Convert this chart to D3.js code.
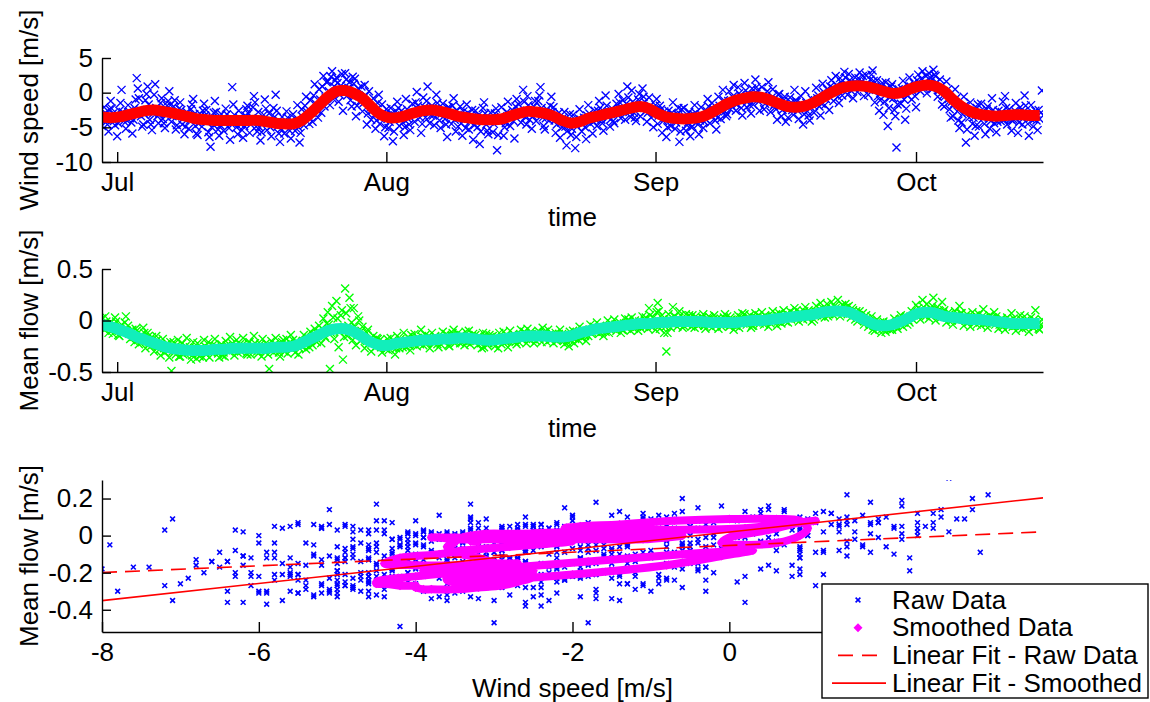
<!DOCTYPE html>
<html>
<head>
<meta charset="utf-8">
<script src="https://cdnjs.cloudflare.com/ajax/libs/d3/7.8.5/d3.min.js"></script>
<style>
  body { margin: 0; background: #fff; }
  text { font-family: "Liberation Sans", Arial, sans-serif; font-size: 26px; fill: #000; }
</style>
</head>
<body>
<svg id="fig" width="1150" height="702"></svg>
<script>
// ---- time base: raw samples every 3 h, smoothed samples every 24 h ----
const seriesStart = Date.UTC(2009, 5, 29, 6);
const seriesEnd = Date.UTC(2009, 9, 15, 15);
const rawStepHours = 3;
const smoothStepHours = 24;

// ---- tick values and labels ----
const monthTicks = [Date.UTC(2009, 6, 1), Date.UTC(2009, 7, 1), Date.UTC(2009, 8, 1), Date.UTC(2009, 9, 1)];
const monthLabels = ["Jul", "Aug", "Sep", "Oct"];
const windTicks = [5, 0, -5, -10];
const flowTicks = [0.5, 0, -0.5];
const scatterXTicks = [-8, -6, -4, -2, 0];
const scatterYTicks = [0.2, 0, -0.2, -0.4];

// ---- raw wind speed [m/s], 3-hourly (one row per day) ----
const windRaw = [
  -4.8,-3.2,-2.1,-2.9,-3.9,-4.6,-5.6,-2.4,
  -1.2,-2.3,-3.0,-4.1,-4.7,-3.5,-6.3,-4.4,
  -2.6,-1.5,0.4,-2.8,-4.1,-3.3,-5.2,-4.0,
  -1.8,-2.7,-3.7,-4.3,-5.9,-3.9,-2.2,-1.0,
  2.1,0.6,-0.8,-2.5,-3.4,-4.9,-4.6,-3.1,
  -1.1,-0.2,0.9,-1.7,-3.9,-4.6,-5.4,-3.0,
  -0.3,1.2,-2.2,-3.4,-4.4,-3.1,-1.5,-0.8,
  -3.8,-4.4,-5.1,-2.9,-1.9,-1.2,0.2,-1.8,
  -4.2,-3.4,-2.0,-1.1,-5.3,-4.7,-3.1,-2.3,
  -1.4,-2.5,-4.6,-3.7,-6.0,-4.9,-2.8,-3.5,
  -5.2,-4.0,-2.4,-1.7,-0.9,-3.1,-4.8,-5.9,
  -6.1,-4.5,-3.0,-3.9,-4.9,-2.6,-1.6,-3.3,
  -2.5,-4.2,-5.7,-6.4,-7.8,-5.0,-3.6,-2.9,
  -1.2,-2.8,-4.4,-5.3,-6.2,-4.7,-3.1,-3.8,
  -5.5,-3.6,-2.3,-3.1,-4.0,-5.1,-6.8,-4.5,
  0.8,-1.7,-3.2,-4.1,-5.0,-6.0,-2.6,-3.7,
  -4.6,-5.4,-6.5,-4.8,-3.3,-2.4,-1.9,-3.0,
  -5.8,-4.6,-3.7,-2.1,-0.5,-1.4,-4.9,-5.6,
  -2.8,-5.0,-6.9,-5.7,-4.3,-3.2,-1.0,-2.3,
  -5.4,-4.4,-3.0,-5.0,-6.3,-4.1,-2.2,-3.5,
  -0.3,-2.6,-4.8,-5.9,-7.1,-5.2,-3.5,-4.3,
  -5.9,-4.8,-2.7,-3.6,-4.4,-5.5,-6.6,-4.0,
  -3.1,-4.6,-5.5,-3.9,-1.8,-5.0,-7.2,-5.8,
  -2.4,-3.5,-4.7,-1.9,-0.6,-2.8,-3.3,-4.5,
  -1.1,-2.9,-4.2,-0.4,1.2,-1.6,-2.5,-3.6,
  0.5,-1.0,-2.9,0.9,2.4,-2.0,-0.7,1.5,
  1.6,0.2,-1.8,2.3,3.1,-0.9,0.9,1.8,
  2.2,1.4,-1.3,-0.3,1.0,2.7,-2.6,0.5,
  2.8,1.9,-0.4,0.7,1.5,-1.1,-2.0,2.3,
  1.3,2.0,-3.4,-1.9,0.6,-0.5,-1.2,0.9,
  -2.7,-1.5,1.1,-0.4,-4.6,-3.0,0.2,-2.2,
  -3.9,-2.6,-0.8,-3.2,-5.2,-4.0,-1.5,-0.3,
  -4.5,-3.6,-1.7,-2.9,-6.3,-5.0,-2.4,-3.8,
  -5.1,-4.2,-2.2,-3.0,-7.0,-5.6,-3.3,-2.7,
  -1.3,-2.2,-4.8,-3.7,-2.6,-4.3,-6.1,-5.0,
  -0.9,-2.4,-3.8,-4.6,-5.4,-3.0,-1.6,-2.9,
  -4.2,-1.4,0.1,-1.9,-2.5,-3.6,-5.8,-4.5,
  -0.7,-2.1,-3.6,-1.2,0.9,-2.9,-4.4,-3.3,
  -1.9,-3.3,-4.7,-2.4,-0.3,-1.5,-3.0,-4.0,
  -5.1,-3.0,-1.6,-2.5,-3.8,-4.6,-6.4,-2.1,
  -2.2,-3.4,-4.5,-1.9,-0.8,-3.9,-5.6,-2.6,
  -4.9,-3.6,-2.0,-4.4,-6.2,-2.7,-3.2,-5.1,
  -1.7,-2.9,-5.3,-4.2,-3.9,-2.5,-6.8,-4.7,
  -2.6,-4.1,-5.0,-3.2,-7.4,-5.6,-3.5,-2.2,
  -1.4,-3.0,-4.6,-5.5,-6.0,-4.2,-2.9,-3.7,
  -5.7,-4.5,-3.0,-2.3,-8.3,-6.1,-4.1,-3.4,
  -2.1,-3.9,-6.2,-5.0,-4.4,-2.8,-1.3,-3.1,
  -4.8,-3.5,-2.5,-4.1,-6.6,-2.0,-0.9,-2.7,
  -1.7,-2.6,-4.3,-3.2,0.4,-1.3,-3.5,-4.6,
  -0.5,-1.8,-3.9,-2.9,-5.2,-3.4,-2.0,-1.2,
  -4.1,-2.7,-1.2,-0.4,0.8,-2.2,-3.6,-4.8,
  -5.3,-3.7,-2.4,-3.1,-4.0,-1.9,-0.6,-2.8,
  -2.1,-4.0,-5.8,-4.6,-3.7,-2.9,-6.5,-4.3,
  -5.0,-3.6,-2.8,-4.9,-7.6,-5.5,-4.3,-3.1,
  -6.1,-5.2,-3.2,-4.3,-8.0,-6.4,-4.9,-3.7,
  -2.4,-3.9,-5.6,-4.5,-3.6,-5.0,-6.7,-3.3,
  -1.8,-3.0,-4.5,-3.6,-5.9,-4.2,-2.6,-3.9,
  -4.8,-2.6,-1.2,-2.2,-3.9,-4.4,-5.5,-3.1,
  -0.4,-1.9,-3.5,-2.7,-4.9,-3.8,-2.3,-4.1,
  -4.4,-2.9,-1.6,-3.1,-0.2,-1.4,-3.7,-2.2,
  -1.1,-2.4,-3.9,-1.6,0.9,-0.7,-2.8,-3.5,
  0.3,-1.3,-2.9,-3.6,-4.1,-2.2,-1.0,-0.2,
  -3.4,-1.8,0.6,-0.6,-1.3,-2.7,-4.2,-2.9,
  -0.7,-1.9,-3.6,-2.5,-5.0,-3.2,-1.8,-0.9,
  -4.5,-3.3,-1.9,-2.4,-5.8,-4.1,-2.7,-3.6,
  -6.4,-5.0,-2.6,-3.7,-4.8,-2.9,-1.4,-3.2,
  -5.2,-4.3,-3.1,-2.2,-7.1,-5.6,-2.4,-3.5,
  -2.2,-3.4,-5.5,-4.7,-4.3,-2.8,-6.3,-5.0,
  -4.9,-3.1,-1.8,-2.9,-3.4,-4.6,-6.0,-4.0,
  -2.1,-3.3,-5.1,-4.2,-3.8,-2.6,-0.9,-2.0,
  -4.4,-3.2,-1.5,-2.3,-2.9,-4.0,-5.3,-3.6,
  -0.6,-1.9,-3.8,-2.6,0.4,-1.1,-2.7,-3.4,
  -3.1,-1.2,0.2,-2.4,-1.9,-0.6,1.1,-1.5,
  -2.6,-1.7,0.8,-0.1,-0.4,-2.2,-3.3,-0.8,
  1.4,0.3,-2.1,-1.2,-0.2,-1.8,-3.0,0.6,
  -1.7,-0.4,1.9,0.8,0.3,-1.3,-2.6,-0.9,
  0.8,-0.5,-2.4,-1.6,-0.9,0.2,1.5,-1.2,
  -2.8,-0.7,0.5,-1.9,-1.6,-2.4,-3.9,-0.3,
  -0.2,-1.8,-3.4,-2.5,-1.1,-0.6,-4.2,-2.2,
  -3.6,-2.3,-0.7,-1.4,-2.5,-3.2,0.4,-1.1,
  -1.3,-2.6,-3.8,-2.0,-0.5,-1.7,-4.6,-3.1,
  0.2,-1.5,-2.7,-3.3,-4.0,-2.1,-0.9,-1.8,
  -2.9,-1.1,0.7,-0.8,-0.4,-2.0,-3.3,-1.6,
  1.3,0.1,-1.8,-0.9,0.5,-0.2,-2.5,0.9,
  1.8,0.7,-1.2,0.4,2.4,1.1,-0.6,-1.5,
  2.1,1.5,-0.4,0.9,3.0,2.2,1.2,-0.3,
  2.7,1.8,0.3,1.1,-0.8,0.6,2.2,1.4,
  0.1,2.1,2.9,0.8,1.6,2.4,-0.5,1.0,
  2.5,1.2,-0.3,0.6,1.9,2.6,3.2,1.7,
  -1.4,0.4,1.8,-0.5,-2.6,-1.1,0.9,1.4,
  -3.2,-1.3,1.5,0.6,-4.8,-2.2,-0.7,0.9,
  1.2,-0.8,-2.5,-3.4,-7.9,-1.7,0.5,-0.2,
  -1.6,0.6,1.7,-1.0,-3.9,-2.3,-0.4,1.0,
  2.2,0.9,-1.0,0.2,1.4,-0.5,-2.1,1.8,
  2.6,1.3,0.2,2.0,3.1,0.7,1.5,2.4,
  -0.1,1.0,2.8,2.2,1.7,0.5,3.3,2.6,
  2.4,1.5,-0.6,0.3,1.9,0.9,-1.7,-0.4,
  -2.0,-0.5,1.6,0.4,-0.9,-2.4,-3.6,-1.3,
  -3.4,-1.6,0.5,-0.8,-2.7,-4.0,-5.1,-2.2,
  -4.3,-3.1,-0.6,-1.9,-7.2,-5.3,-2.8,-3.6,
  -1.4,-2.9,-4.5,-3.6,-6.2,-4.8,-2.2,-1.7,
  -4.9,-2.7,-1.6,-3.3,-3.7,-4.5,-6.0,-2.4,
  -2.0,-3.6,-5.2,-4.1,-0.8,-2.5,-4.4,-3.0,
  -5.7,-4.2,-2.6,-3.5,-4.1,-2.8,-1.3,-3.9,
  -0.5,-2.2,-4.6,-3.4,-2.4,-3.8,-5.5,-4.1,
  -3.9,-2.6,-1.5,-3.0,-5.8,-4.3,-2.1,-3.5,
  -4.6,-2.8,-0.4,-1.9,-3.0,-4.5,-6.2,-3.7,
  -1.8,-3.2,-4.9,-3.8,-2.6,-4.0,-5.4,-2.5,
  -3.8,-2.9,0.3
];

// ---- raw mean flow [m/s], same 3-hourly times ----
const flowRaw = [
  0.02,-0.05,-0.09,0.04,-0.01,-0.07,-0.12,-0.03,
  -0.02,-0.10,-0.13,-0.04,0.03,-0.01,-0.08,-0.14,
  -0.15,-0.08,-0.04,-0.12,-0.11,-0.02,0.04,-0.10,
  -0.05,-0.13,-0.18,-0.10,-0.09,-0.16,-0.21,-0.08,
  -0.10,-0.19,-0.23,-0.17,-0.14,-0.21,-0.07,-0.12,
  -0.27,-0.20,-0.12,-0.15,-0.22,-0.25,-0.16,-0.23,
  -0.30,-0.21,-0.15,-0.19,-0.25,-0.28,-0.34,-0.24,
  -0.18,-0.27,-0.31,-0.24,-0.22,-0.29,-0.36,-0.21,
  -0.49,-0.30,-0.21,-0.26,-0.33,-0.24,-0.19,-0.35,
  -0.35,-0.28,-0.22,-0.33,-0.30,-0.25,-0.17,-0.31,
  -0.31,-0.26,-0.38,-0.34,-0.21,-0.27,-0.29,-0.37,
  -0.22,-0.32,-0.35,-0.29,-0.27,-0.36,-0.19,-0.25,
  -0.33,-0.27,-0.21,-0.36,-0.30,-0.31,-0.24,-0.28,
  -0.18,-0.25,-0.29,-0.32,-0.36,-0.30,-0.23,-0.34,
  -0.31,-0.35,-0.20,-0.24,-0.27,-0.30,-0.16,-0.26,
  -0.22,-0.29,-0.34,-0.25,-0.19,-0.31,-0.28,-0.23,
  -0.30,-0.24,-0.17,-0.28,-0.26,-0.32,-0.33,-0.21,
  -0.21,-0.33,-0.29,-0.24,-0.15,-0.22,-0.27,-0.30,
  -0.32,-0.26,-0.23,-0.35,-0.18,-0.28,-0.30,-0.22,
  -0.27,-0.33,-0.47,-0.29,-0.20,-0.25,-0.31,-0.23,
  -0.17,-0.24,-0.28,-0.31,-0.35,-0.27,-0.21,-0.19,
  -0.30,-0.23,-0.18,-0.32,-0.26,-0.21,-0.14,-0.28,
  -0.19,-0.26,-0.31,-0.20,-0.22,-0.33,-0.27,-0.24,
  -0.25,-0.20,-0.14,-0.23,-0.28,-0.19,-0.17,-0.26,
  -0.11,-0.17,-0.24,-0.14,-0.08,-0.20,-0.21,-0.13,
  -0.05,-0.12,-0.22,-0.08,0.02,-0.15,-0.17,-0.03,
  0.08,-0.04,-0.47,-0.12,0.14,0.03,-0.18,-0.09,
  0.19,0.02,-0.26,-0.11,0.05,0.10,-0.38,-0.16,
  0.31,0.07,-0.15,-0.05,0.22,0.12,-0.02,-0.19,
  0.12,-0.06,-0.24,-0.13,0.04,0.00,-0.20,-0.10,
  -0.06,-0.15,-0.27,-0.19,-0.12,-0.09,-0.22,-0.18,
  -0.30,-0.22,-0.15,-0.20,-0.26,-0.17,-0.18,-0.24,
  -0.19,-0.26,-0.31,-0.21,-0.22,-0.27,-0.28,-0.18,
  -0.29,-0.22,-0.17,-0.25,-0.26,-0.20,-0.33,-0.27,
  -0.15,-0.23,-0.27,-0.18,-0.20,-0.26,-0.12,-0.21,
  -0.26,-0.22,-0.16,-0.24,-0.29,-0.14,-0.19,-0.23,
  -0.13,-0.21,-0.25,-0.17,-0.18,-0.23,-0.09,-0.16,
  -0.24,-0.17,-0.14,-0.22,-0.21,-0.15,-0.27,-0.20,
  -0.12,-0.20,-0.22,-0.15,-0.17,-0.23,-0.26,-0.18,
  -0.23,-0.16,-0.11,-0.21,-0.20,-0.13,-0.14,-0.24,
  -0.25,-0.19,-0.15,-0.12,-0.09,-0.22,-0.21,-0.16,
  -0.12,-0.18,-0.22,-0.14,-0.16,-0.20,-0.24,-0.11,
  -0.21,-0.15,-0.10,-0.23,-0.19,-0.17,-0.13,-0.20,
  -0.14,-0.20,-0.24,-0.15,-0.17,-0.22,-0.27,-0.12,
  -0.26,-0.19,-0.13,-0.24,-0.22,-0.14,-0.16,-0.21,
  -0.15,-0.22,-0.25,-0.17,-0.19,-0.27,-0.12,-0.20,
  -0.23,-0.16,-0.11,-0.19,-0.21,-0.14,-0.26,-0.20,
  -0.10,-0.18,-0.20,-0.13,-0.14,-0.21,-0.23,-0.16,
  -0.21,-0.14,-0.09,-0.19,-0.18,-0.11,-0.12,-0.22,
  -0.08,-0.16,-0.19,-0.11,-0.13,-0.18,-0.22,-0.14,
  -0.20,-0.13,-0.10,-0.18,-0.16,-0.21,-0.07,-0.12,
  -0.11,-0.17,-0.21,-0.09,-0.14,-0.19,-0.18,-0.13,
  -0.22,-0.15,-0.12,-0.20,-0.19,-0.13,-0.09,-0.18,
  -0.13,-0.19,-0.23,-0.14,-0.17,-0.21,-0.25,-0.11,
  -0.20,-0.16,-0.10,-0.22,-0.18,-0.14,-0.12,-0.19,
  -0.06,-0.13,-0.17,-0.09,-0.10,-0.15,-0.20,-0.11,
  -0.15,-0.09,-0.04,-0.13,-0.12,-0.06,-0.07,-0.11,
  -0.02,-0.09,-0.13,-0.05,-0.06,-0.11,-0.15,-0.07,
  -0.11,-0.06,0.00,-0.12,-0.09,-0.03,-0.04,-0.08,
  0.01,-0.04,-0.10,-0.07,-0.05,-0.02,-0.12,-0.09,
  -0.09,-0.03,0.02,-0.07,-0.06,0.01,-0.01,-0.10,
  0.03,-0.05,-0.08,0.00,-0.02,-0.06,-0.10,-0.01,
  -0.07,-0.02,0.04,-0.06,0.01,0.03,-0.05,-0.08,
  0.12,0.05,-0.06,-0.01,0.03,-0.04,-0.09,0.08,
  0.17,0.09,-0.08,-0.03,0.05,0.01,-0.12,-0.06,
  -0.30,-0.12,0.06,0.01,-0.07,-0.03,0.13,0.04,
  0.04,-0.02,-0.06,0.02,0.09,0.05,-0.03,-0.07,
  -0.05,0.01,0.06,-0.04,-0.02,0.05,0.03,-0.06,
  0.05,-0.02,-0.07,0.04,0.02,-0.05,-0.04,0.01,
  -0.03,0.03,0.06,-0.05,-0.08,-0.01,0.01,0.04,
  0.03,-0.02,-0.07,0.01,0.05,-0.04,-0.05,0.02,
  -0.08,-0.03,0.02,-0.06,-0.04,0.03,0.06,-0.01,
  0.04,-0.01,-0.06,0.03,0.01,-0.04,-0.09,-0.02,
  -0.05,0.00,0.05,-0.07,-0.02,0.03,0.07,-0.03,
  0.06,0.01,-0.04,-0.02,0.03,0.05,-0.07,-0.05,
  -0.05,0.03,0.07,-0.02,0.02,0.05,-0.03,0.01,
  0.08,0.02,-0.04,0.05,0.04,-0.01,-0.06,0.03,
  -0.03,0.04,0.09,0.00,0.02,0.06,-0.05,-0.01,
  0.07,0.03,-0.03,0.05,0.10,0.01,-0.01,0.06,
  -0.02,0.04,0.09,0.01,0.05,0.07,0.12,0.02,
  0.10,0.05,-0.01,0.08,0.07,0.03,0.01,0.09,
  0.13,0.06,0.02,0.10,0.08,0.04,-0.01,0.07,
  0.01,0.09,0.14,0.05,0.08,0.11,0.17,0.04,
  0.12,0.08,0.03,0.11,0.16,0.04,0.06,0.10,
  0.18,0.09,0.05,0.14,0.12,0.07,0.20,0.11,
  0.04,0.10,0.15,0.07,0.09,0.16,0.13,0.06,
  0.14,0.07,0.03,0.12,0.10,0.05,0.01,0.09,
  -0.01,0.05,0.09,0.03,0.02,0.07,-0.04,0.00,
  0.05,0.02,-0.06,-0.03,-0.01,0.04,-0.09,-0.05,
  -0.10,-0.03,0.01,-0.06,-0.07,-0.02,-0.12,-0.08,
  -0.01,-0.04,-0.11,-0.08,-0.06,-0.02,-0.09,-0.07,
  -0.09,-0.06,0.02,-0.03,-0.05,-0.08,-0.01,0.01,
  0.05,0.01,-0.06,-0.02,0.03,0.04,-0.04,0.00,
  -0.02,0.04,0.09,0.01,0.05,0.07,0.15,0.06,
  0.12,0.06,0.01,0.10,0.20,0.13,0.08,0.04,
  0.16,0.09,0.02,0.05,0.11,0.14,0.22,0.07,
  0.00,0.06,0.13,0.10,0.09,0.03,0.18,0.08,
  0.10,0.05,-0.02,0.03,0.08,0.06,0.01,0.00,
  -0.04,0.02,0.09,0.05,0.04,0.00,0.14,0.07,
  0.07,0.01,-0.05,0.04,0.03,0.06,-0.02,-0.01,
  -0.06,0.03,0.08,-0.01,0.02,0.05,-0.04,0.00,
  0.06,-0.02,-0.05,0.04,0.11,0.03,0.00,-0.03,
  -0.07,-0.01,0.05,0.02,-0.02,0.03,0.08,-0.04,
  0.04,-0.02,-0.08,-0.04,0.01,0.02,-0.06,-0.01,
  -0.09,-0.03,0.03,-0.01,-0.05,0.00,0.07,-0.06,
  0.02,-0.05,-0.10,-0.02,-0.04,-0.07,0.05,0.01,
  -0.08,-0.03,0.04,0.00,-0.01,-0.06,-0.11,-0.02,
  0.03,-0.02,-0.07,0.01,0.10,-0.05,-0.04,-0.08,
  -0.09,-0.04,0.01
];

// ---- smoothed wind speed [m/s], daily ----
const windSmooth = [
  -3.5,-3.6,-3.5,-3.2,-2.9,-2.6,-2.5,-2.7,-2.9,-3.2,
  -3.5,-3.8,-3.9,-4.0,-4.0,-4.0,-4.0,-4.0,-4.0,-4.2,
  -4.4,-4.5,-4.5,-4.0,-3.0,-1.8,-0.6,0.2,0.3,-0.1,
  -0.8,-2.0,-3.1,-3.6,-3.6,-3.3,-2.9,-2.6,-2.5,-2.7,
  -3.0,-3.4,-3.6,-3.8,-3.9,-3.9,-3.8,-3.4,-3.0,-2.7,
  -2.8,-3.0,-3.4,-4.0,-4.4,-4.2,-3.7,-3.4,-3.1,-2.8,
  -2.5,-2.2,-2.0,-2.3,-3.0,-3.5,-3.7,-3.8,-3.7,-3.5,
  -3.0,-2.3,-1.6,-1.1,-0.8,-0.6,-0.7,-1.1,-1.6,-2.0,
  -2.1,-1.9,-1.4,-0.7,0.0,0.6,0.9,1.0,0.9,0.6,
  0.2,-0.1,0.0,0.5,0.9,1.1,0.9,0.2,-1.0,-2.0,
  -2.7,-3.1,-3.3,-3.4,-3.3,-3.2,-3.2,-3.3,-3.3
];

// ---- smoothed mean flow [m/s], daily ----
const flowSmooth = [
  -0.04,-0.06,-0.09,-0.12,-0.16,-0.19,-0.22,-0.25,-0.27,-0.28,
  -0.29,-0.29,-0.29,-0.28,-0.28,-0.27,-0.27,-0.27,-0.27,-0.27,
  -0.26,-0.26,-0.25,-0.22,-0.18,-0.14,-0.10,-0.08,-0.08,-0.11,
  -0.16,-0.21,-0.24,-0.24,-0.22,-0.21,-0.20,-0.19,-0.19,-0.18,
  -0.18,-0.17,-0.17,-0.18,-0.19,-0.19,-0.18,-0.17,-0.16,-0.15,
  -0.15,-0.15,-0.16,-0.16,-0.15,-0.12,-0.10,-0.08,-0.07,-0.06,
  -0.05,-0.04,-0.03,-0.03,-0.02,-0.02,-0.01,-0.01,-0.01,-0.01,
  -0.02,-0.02,-0.02,-0.02,-0.01,0.00,0.00,0.01,0.02,0.03,
  0.04,0.05,0.06,0.08,0.09,0.09,0.08,0.04,0.00,-0.04,
  -0.05,-0.04,-0.01,0.03,0.07,0.08,0.07,0.04,0.03,0.02,
  0.01,0.01,0.00,-0.01,-0.02,-0.03,-0.03,-0.03,-0.03
];

// ---- linear fits of mean flow against wind speed: [intercept, slope] ----
const fitRaw = [-0.053, 0.0183];
const fitSmooth = [0.019, 0.0462];

const legendLabels = ["Raw Data", "Smoothed Data", "Linear Fit - Raw Data", "Linear Fit - Smoothed"];

// ---------------------------------------------------------------
const svg = d3.select("#fig");
const H = 3600e3;
const rawTime = i => new Date(seriesStart + i * rawStepHours * H);
const smoothTime = i => new Date(seriesStart + i * smoothStepHours * H);

const left = 102, right = 1043;
const panels = {
  wind:    { top: 58,  bottom: 162 },
  flow:    { top: 269, bottom: 372 },
  scatter: { top: 480, bottom: 632 }
};

const xTime = d3.scaleUtc().domain([new Date(seriesStart), new Date(seriesEnd)]).range([left, right]);
const yWind = d3.scaleLinear().domain([-10, 5]).range([panels.wind.bottom, panels.wind.top]);
const yFlow = d3.scaleLinear().domain([-0.5, 0.5]).range([panels.flow.bottom, panels.flow.top]);
const xSc = d3.scaleLinear().domain([-8, 4]).range([left, right]);
const ySc = d3.scaleLinear().domain([-0.52, 0.3]).range([panels.scatter.bottom, panels.scatter.top]);

const numFmt = d => String(d);

function clip(id, p) {
  svg.append("clipPath").attr("id", id).append("rect")
    .attr("x", left).attr("y", p.top).attr("width", right - left).attr("height", p.bottom - p.top);
}
clip("c-wind", panels.wind);
clip("c-flow", panels.flow);
clip("c-sc", panels.scatter);

const crossPath = h => `M${-h},${-h}L${h},${h}M${-h},${h}L${h},${-h}`;
const diamondPath = r => `M0,${-r}L${r},0L0,${r}L${-r},0Z`;

function drawAxes(xAxis, yAxis, p) {
  const gx = svg.append("g").attr("transform", `translate(0,${p.bottom})`).call(xAxis);
  const gy = svg.append("g").attr("transform", `translate(${left},0)`).call(yAxis);
  [gx, gy].forEach(g => {
    g.attr("font-size", null).attr("font-family", null);
    g.selectAll(".domain").attr("stroke", "#000").attr("stroke-width", 1.4);
    g.selectAll(".tick line").attr("stroke", "#000").attr("stroke-width", 1.4);
    g.selectAll("text").attr("fill", "#000");
  });
}

function timeAxes(yScale, yTicks, p) {
  const xa = d3.axisBottom(xTime).tickValues(monthTicks.map(t => new Date(t)))
    .tickFormat((d, i) => monthLabels[i]).tickSizeInner(-10).tickSizeOuter(0).tickPadding(11);
  const ya = d3.axisLeft(yScale).tickValues(yTicks).tickFormat(numFmt)
    .tickSizeInner(-9).tickSizeOuter(0).tickPadding(9);
  drawAxes(xa, ya, p);
}

// ---------- Panel 1: wind speed ----------
const g1 = svg.append("g").attr("clip-path", "url(#c-wind)");
g1.selectAll("path.raw").data(windRaw).join("path")
  .attr("transform", (d, i) => `translate(${xTime(rawTime(i))},${yWind(d)})`)
  .attr("d", crossPath(4)).attr("fill", "none").attr("stroke", "#0000ff").attr("stroke-width", 1.35);
g1.append("path").datum(windSmooth)
  .attr("d", d3.line().x((d, i) => xTime(smoothTime(i))).y(d => yWind(d)).curve(d3.curveCatmullRom))
  .attr("fill", "none").attr("stroke", "#ff0000").attr("stroke-width", 11).attr("stroke-linejoin", "round");
timeAxes(yWind, windTicks, panels.wind);

// ---------- Panel 2: mean flow ----------
const g2 = svg.append("g").attr("clip-path", "url(#c-flow)");
g2.selectAll("path.raw").data(flowRaw).join("path")
  .attr("transform", (d, i) => `translate(${xTime(rawTime(i))},${yFlow(d)})`)
  .attr("d", crossPath(4)).attr("fill", "none").attr("stroke", "#00ff00").attr("stroke-width", 1.35);
g2.append("path").datum(flowSmooth)
  .attr("d", d3.line().x((d, i) => xTime(smoothTime(i))).y(d => yFlow(d)).curve(d3.curveCatmullRom))
  .attr("fill", "none").attr("stroke", "#12eebb").attr("stroke-width", 11).attr("stroke-linejoin", "round");
timeAxes(yFlow, flowTicks, panels.flow);

// ---------- Panel 3: mean flow vs wind speed ----------
const g3 = svg.append("g").attr("clip-path", "url(#c-sc)");
const rawPairs = windRaw.map((w, i) => [w, flowRaw[i]]);
const smoothPairs = windSmooth.map((w, i) => [w, flowSmooth[i]]);

g3.selectAll("path.raw").data(rawPairs).join("path")
  .attr("transform", d => `translate(${xSc(d[0])},${ySc(d[1])})`)
  .attr("d", crossPath(2.4)).attr("fill", "none").attr("stroke", "#0000ff").attr("stroke-width", 1.6);

g3.append("path").datum(smoothPairs)
  .attr("d", d3.line().x(d => xSc(d[0])).y(d => ySc(d[1])).curve(d3.curveCatmullRom))
  .attr("fill", "none").attr("stroke", "#ff00ff").attr("stroke-width", 8).attr("stroke-linejoin", "round");
g3.selectAll("path.sm").data(smoothPairs).join("path")
  .attr("transform", d => `translate(${xSc(d[0])},${ySc(d[1])})`)
  .attr("d", diamondPath(4.5)).attr("fill", "#ff00ff");

const fitLine = f => xSc.domain().map(w => [w, f[0] + f[1] * w]);
const lineXY = d3.line().x(d => xSc(d[0])).y(d => ySc(d[1]));
g3.append("path").datum(fitLine(fitRaw)).attr("d", lineXY)
  .attr("fill", "none").attr("stroke", "#ff0000").attr("stroke-width", 1.6).attr("stroke-dasharray", "15,8");
g3.append("path").datum(fitLine(fitSmooth)).attr("d", lineXY)
  .attr("fill", "none").attr("stroke", "#ff0000").attr("stroke-width", 1.6);

drawAxes(
  d3.axisBottom(xSc).tickValues(scatterXTicks).tickFormat(numFmt).tickSizeInner(-10).tickSizeOuter(0).tickPadding(11),
  d3.axisLeft(ySc).tickValues(scatterYTicks).tickFormat(numFmt).tickSizeInner(-9).tickSizeOuter(0).tickPadding(9),
  panels.scatter
);

// ---------- axis titles ----------
const midX = (left + right) / 2;
svg.append("text").attr("x", midX).attr("y", 226).attr("text-anchor", "middle").text("time");
svg.append("text").attr("x", midX).attr("y", 437).attr("text-anchor", "middle").text("time");
svg.append("text").attr("x", midX).attr("y", 697).attr("text-anchor", "middle").text("Wind speed [m/s]");
const yTitle = (p, label) => svg.append("text")
  .attr("transform", `translate(38,${(p.top + p.bottom) / 2}) rotate(-90)`)
  .attr("text-anchor", "middle").text(label);
yTitle(panels.wind, "Wind speed [m/s]");
yTitle(panels.flow, "Mean flow [m/s]");
yTitle(panels.scatter, "Mean flow [m/s]");

// ---------- legend ----------
const lg = svg.append("g");
lg.append("rect").attr("x", 822).attr("y", 584).attr("width", 326).attr("height", 114)
  .attr("fill", "#fff").attr("stroke", "#000").attr("stroke-width", 1.4);
const rowBase = i => 608.5 + i * 27.7;
legendLabels.forEach((t, i) => {
  lg.append("text").attr("x", 892).attr("y", rowBase(i)).text(t);
});
const rowMid = i => rowBase(i) - 8.5;
lg.append("path").attr("transform", `translate(858,${rowMid(0)})`).attr("d", crossPath(2.4))
  .attr("fill", "none").attr("stroke", "#0000ff").attr("stroke-width", 1.6);
lg.append("path").attr("transform", `translate(858,${rowMid(1)})`).attr("d", diamondPath(4.5)).attr("fill", "#ff00ff");
lg.append("line").attr("x1", 838).attr("x2", 880).attr("y1", rowMid(2)).attr("y2", rowMid(2))
  .attr("stroke", "#ff0000").attr("stroke-width", 1.6).attr("stroke-dasharray", "15,9");
lg.append("line").attr("x1", 832).attr("x2", 886).attr("y1", rowMid(3)).attr("y2", rowMid(3))
  .attr("stroke", "#ff0000").attr("stroke-width", 1.6);
</script>
</body>
</html>
